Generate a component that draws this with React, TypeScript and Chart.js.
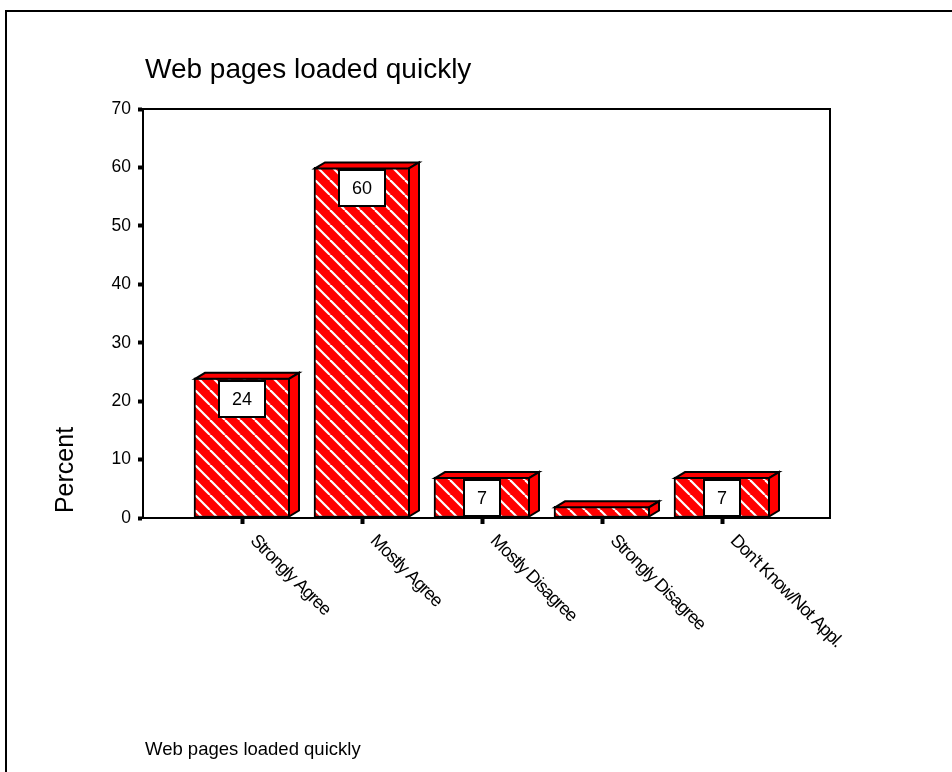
import React, { useEffect, useRef } from "react";
import { Chart, registerables } from "chart.js";

Chart.register(...registerables);

const categories = [
  "Strongly Agree",
  "Mostly Agree",
  "Mostly Disagree",
  "Strongly Disagree",
  "Don't Know/Not Appl.",
];
const percentValues = [24, 60, 7, 2, 7];
const valueLabels = ["24", "60", "7", "", "7"];
const yTicks = [0, 10, 20, 30, 40, 50, 60, 70];
const chartTitle = "Web pages loaded quickly";
const xAxisTitle = "Web pages loaded quickly";
const yAxisTitle = "Percent";

const FONT = "'Liberation Sans', Arial, Helvetica, sans-serif";
const W = 952;
const H = 772;

function makeHatch(ctx: CanvasRenderingContext2D): CanvasPattern | string {
  const s = 15;
  const c = document.createElement("canvas");
  c.width = s;
  c.height = s;
  const g = c.getContext("2d");
  if (!g) return "#ff0000";
  g.fillStyle = "#ff0000";
  g.fillRect(0, 0, s, s);
  g.strokeStyle = "#ffffff";
  g.lineWidth = 2.2;
  for (const o of [-s, 0, s]) {
    g.beginPath();
    g.moveTo(o, 0);
    g.lineTo(o + s, s);
    g.stroke();
  }
  return ctx.createPattern(c, "repeat") || "#ff0000";
}

const decorPlugin = {
  id: "decor",
  afterDatasetsDraw(chart: any) {
    const ctx: CanvasRenderingContext2D = chart.ctx;
    const meta = chart.getDatasetMeta(0);
    const dx = 10;
    const dy = 6;
    ctx.save();
    ctx.lineWidth = 2;
    ctx.strokeStyle = "#000";
    ctx.lineJoin = "miter";
    meta.data.forEach((bar: any, i: number) => {
      const p = bar.getProps(["x", "y", "base", "width"], true);
      const L = p.x - p.width / 2 + 1;
      const R = p.x + p.width / 2 - 1;
      const T = p.y + 1;
      const B = p.base - 1;
      ctx.beginPath();
      ctx.moveTo(L, T);
      ctx.lineTo(L + dx, T - dy);
      ctx.lineTo(R + dx, T - dy);
      ctx.lineTo(R, T);
      ctx.closePath();
      ctx.fillStyle = "#ff0000";
      ctx.fill();
      ctx.stroke();
      ctx.beginPath();
      ctx.moveTo(R, T);
      ctx.lineTo(R + dx, T - dy);
      ctx.lineTo(R + dx, B - dy);
      ctx.lineTo(R, B);
      ctx.closePath();
      ctx.fill();
      ctx.stroke();

      const lbl = valueLabels[i];
      if (lbl) {
        ctx.font = `18px ${FONT}`;
        const tw = ctx.measureText(lbl).width;
        const bw = Math.round(tw + 26);
        const bh = 36;
        const bx = Math.round(p.x - bw / 2);
        const by = Math.round(p.y + 3);
        ctx.fillStyle = "#fff";
        ctx.fillRect(bx, by, bw, bh);
        ctx.strokeRect(bx, by, bw, bh);
        ctx.fillStyle = "#000";
        ctx.textAlign = "center";
        ctx.textBaseline = "middle";
        ctx.fillText(lbl, p.x, by + bh / 2 + 1);
      }
    });
    ctx.restore();
  },
  afterDraw(chart: any) {
    const ctx: CanvasRenderingContext2D = chart.ctx;
    const a = chart.chartArea;
    const xs = chart.scales.x;
    ctx.save();
    ctx.fillStyle = "#000";
    ctx.fillRect(5, 10, 2, H - 10);
    ctx.fillRect(5, 10, W - 5, 2);
    ctx.fillRect(a.left - 2, a.top - 1, a.right - a.left + 3, 2);
    ctx.fillRect(a.right - 1, a.top - 1, 2, a.bottom - a.top + 1);

    ctx.textAlign = "left";
    ctx.textBaseline = "alphabetic";
    ctx.font = `28px ${FONT}`;
    ctx.fillText(chartTitle, 145, 78);
    ctx.font = `18.5px ${FONT}`;
    ctx.fillText(xAxisTitle, 145, 755);
    ctx.save();
    ctx.translate(66, 470);
    ctx.rotate(-Math.PI / 2);
    ctx.textAlign = "center";
    ctx.textBaseline = "middle";
    ctx.font = `25px ${FONT}`;
    ctx.fillText(yAxisTitle, 0, 0);
    ctx.restore();

    ctx.font = `18px ${FONT}`;
    (ctx as any).letterSpacing = "-1px";
    categories.forEach((c, i) => {
      const px = xs.getPixelForValue(i);
      ctx.save();
      ctx.translate(px + 11, a.bottom + 20);
      ctx.rotate(Math.PI / 4);
      ctx.textAlign = "left";
      ctx.textBaseline = "middle";
      ctx.fillText(c, 0, 0);
      ctx.restore();
    });
    (ctx as any).letterSpacing = "0px";
    ctx.restore();
  },
};

export default function App() {
  const ref = useRef<HTMLCanvasElement | null>(null);

  useEffect(() => {
    const canvas = ref.current;
    if (!canvas) return;
    const ctx = canvas.getContext("2d");
    if (!ctx) return;
    const hatch = makeHatch(ctx);
    const chart = new Chart(ctx, {
      type: "bar",
      data: {
        datasets: [
          {
            data: percentValues.map((v, i) => ({ x: i, y: v })),
            backgroundColor: hatch as any,
            borderColor: "#000",
            borderWidth: 2,
            borderSkipped: false,
            barThickness: 96,
          } as any,
        ],
      },
      options: {
        responsive: false,
        animation: false,
        events: [],
        layout: { padding: { left: 0, top: 109, right: 122, bottom: 0 } },
        plugins: {
          legend: { display: false },
          tooltip: { enabled: false },
          title: { display: false },
        },
        scales: {
          x: {
            type: "linear",
            min: -0.825,
            max: 4.9,
            offset: false,
            afterBuildTicks: (s: any) => {
              s.ticks = categories.map((_, i) => ({ value: i }));
            },
            afterFit: (s: any) => {
              s.height = H - 518;
            },
            ticks: { display: false },
            grid: {
              offset: false,
              drawOnChartArea: false,
              drawTicks: true,
              tickLength: 6,
              tickWidth: 4,
              color: "#000",
            },
            border: { display: true, color: "#000", width: 2 },
          },
          y: {
            type: "linear",
            min: 0,
            max: 70,
            afterBuildTicks: (s: any) => {
              s.ticks = yTicks.map((v) => ({ value: v }));
            },
            afterFit: (s: any) => {
              s.width = 143;
            },
            ticks: {
              color: "#000",
              font: { family: FONT, size: 17.5 },
              padding: 7,
            },
            grid: {
              drawOnChartArea: false,
              drawTicks: true,
              tickLength: 5,
              tickWidth: 4,
              color: "#000",
            },
            border: { display: true, color: "#000", width: 2 },
          },
        },
      } as any,
      plugins: [decorPlugin],
    });
    return () => chart.destroy();
  }, []);

  return (
    <div style={{ position: "fixed", left: 0, top: 0, width: W, height: H, background: "#fff" }}>
      <canvas ref={ref} width={W} height={H} style={{ display: "block", width: W, height: H }} />
    </div>
  );
}
